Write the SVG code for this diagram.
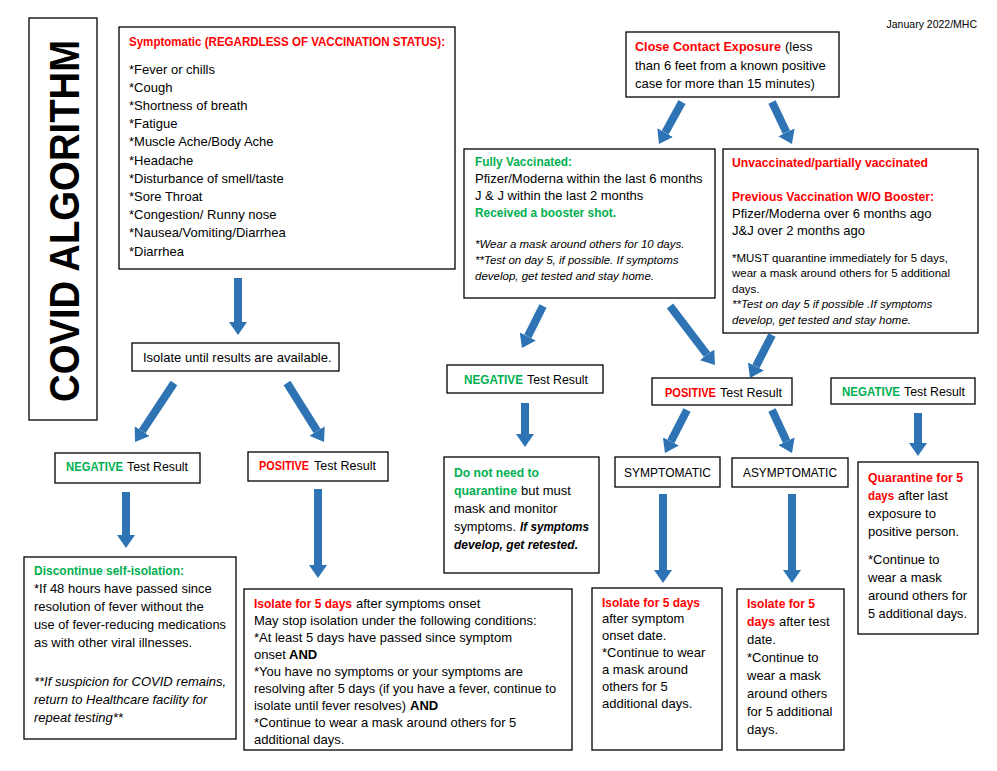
<svg xmlns="http://www.w3.org/2000/svg" width="997" height="771" viewBox="0 0 997 771">
<style>
.box{fill:#fff;stroke:#000;stroke-width:1.3}
text{font-family:"Liberation Sans",Arial,sans-serif;font-size:13px;fill:#000}
.b{font-weight:bold}
.r{fill:#ff0000}
.g{fill:#00b050}
.i{font-style:italic}
.s{font-size:11.5px}
.arr{stroke:#2e74b5;stroke-width:8;fill:none;marker-end:url(#ah)}
</style>
<defs>
<marker id="ah" markerUnits="userSpaceOnUse" viewBox="0 -9 13 18" markerWidth="13" markerHeight="18" refX="0" refY="0" orient="auto">
<path d="M0,-9 L13,0 L0,9 z" fill="#2e74b5"/>
</marker>
</defs>
<rect width="997" height="771" fill="#fff"/>

<text x="977" y="28" text-anchor="end" style="font-size:10.5px">January 2022/MHC</text>

<g id="title">
<rect class="box" x="29" y="18" width="68" height="402"/>
<text class="b" transform="translate(79,221) rotate(-90)" text-anchor="middle" style="font-size:42px" textLength="362" lengthAdjust="spacingAndGlyphs">COVID ALGORITHM</text>
</g>

<g id="connectors">
<line class="arr" x1="238" y1="278" x2="238" y2="322"/>
<line class="arr" x1="174" y1="383" x2="142.2" y2="431.1"/>
<line class="arr" x1="287" y1="383" x2="317.1" y2="431"/>
<line class="arr" x1="126" y1="492" x2="126" y2="535"/>
<line class="arr" x1="318" y1="489" x2="318" y2="565"/>
<line class="arr" x1="682" y1="102" x2="665.2" y2="132.6"/>
<line class="arr" x1="772" y1="102" x2="786.4" y2="132.3"/>
<line class="arr" x1="543" y1="306" x2="527.8" y2="336.4"/>
<line class="arr" x1="670" y1="306" x2="707.1" y2="354.7"/>
<line class="arr" x1="772" y1="335" x2="755.9" y2="366.4"/>
<line class="arr" x1="525" y1="403" x2="525" y2="434"/>
<line class="arr" x1="687" y1="410" x2="670.9" y2="441.4"/>
<line class="arr" x1="772" y1="410" x2="786.5" y2="441.2"/>
<line class="arr" x1="663" y1="494" x2="663" y2="570"/>
<line class="arr" x1="792" y1="494" x2="792" y2="570"/>
<line class="arr" x1="918" y1="413" x2="918" y2="443"/>
</g>

<g id="symptomatic">
<rect class="box" x="119" y="27" width="336" height="242"/>
<text class="b r" x="129" y="45.5" textLength="316" lengthAdjust="spacingAndGlyphs">Symptomatic (REGARDLESS OF VACCINATION STATUS):</text>
<text x="129" y="73.5">*Fever or chills</text>
<text x="129" y="91.7">*Cough</text>
<text x="129" y="109.9">*Shortness of breath</text>
<text x="129" y="128.1">*Fatigue</text>
<text x="129" y="146.3">*Muscle Ache/Body Ache</text>
<text x="129" y="164.5">*Headache</text>
<text x="129" y="182.7">*Disturbance of smell/taste</text>
<text x="129" y="200.9">*Sore Throat</text>
<text x="129" y="219.1">*Congestion/ Runny nose</text>
<text x="129" y="237.3">*Nausea/Vomiting/Diarrhea</text>
<text x="129" y="255.5">*Diarrhea</text>
</g>

<g id="isolate-until">
<rect class="box" x="132" y="343" width="207" height="28"/>
<text x="143" y="361.5">Isolate until results are available.</text>
</g>

<g id="negative-left">
<rect class="box" x="55" y="453" width="145" height="30"/>
<text class="b g" x="66" y="470.5" textLength="57" lengthAdjust="spacingAndGlyphs">NEGATIVE</text>
<text x="127" y="470.5" textLength="61" lengthAdjust="spacingAndGlyphs">Test Result</text>
</g>

<g id="positive-left">
<rect class="box" x="248" y="452" width="140" height="29"/>
<text class="b r" x="259" y="469.5" textLength="50" lengthAdjust="spacingAndGlyphs">POSITIVE</text>
<text x="314" y="469.5" textLength="62" lengthAdjust="spacingAndGlyphs">Test Result</text>
</g>

<g id="discontinue">
<rect class="box" x="24" y="557" width="212" height="182"/>
<text class="b g" x="34" y="574.5" textLength="150" lengthAdjust="spacingAndGlyphs">Discontinue self-isolation:</text>
<text x="34" y="592.7">*If 48 hours have passed since</text>
<text x="34" y="610.9">resolution of fever without the</text>
<text x="34" y="629.1" textLength="192" lengthAdjust="spacingAndGlyphs">use of fever-reducing medications</text>
<text x="34" y="647.3">as with other viral illnesses.</text>
<text class="i" x="34" y="685.5">**If suspicion for COVID remains,</text>
<text class="i" x="34" y="703.5">return to Healthcare facility for</text>
<text class="i" x="34" y="721.5">repeat testing**</text>
</g>

<g id="isolate-5-onset">
<rect class="box" x="244" y="589" width="328" height="161"/>
<text class="b r" x="254" y="607.5" textLength="98" lengthAdjust="spacingAndGlyphs">Isolate for 5 days</text>
<text x="356" y="607.5">after symptoms onset</text>
<text x="254" y="624.5">May stop isolation under the following conditions:</text>
<text x="254" y="641.5">*At least 5 days have passed since symptom</text>
<text x="254" y="658.5">onset</text>
<text class="b" x="289" y="658.5">AND</text>
<text x="254" y="675.5">*You have no symptoms or your symptoms are</text>
<text x="254" y="692.5" textLength="302" lengthAdjust="spacingAndGlyphs">resolving after 5 days (if you have a fever, continue to</text>
<text x="254" y="709.5" textLength="152" lengthAdjust="spacingAndGlyphs">isolate until fever resolves)</text>
<text class="b" x="410" y="709.5">AND</text>
<text x="254" y="726.5">*Continue to wear a mask around others for 5</text>
<text x="254" y="743.5">additional days.</text>
</g>

<g id="close-contact">
<rect class="box" x="626" y="32" width="213" height="65"/>
<text class="b r" x="635" y="51" textLength="146" lengthAdjust="spacingAndGlyphs">Close Contact Exposure</text>
<text x="785" y="51">(less</text>
<text x="635" y="69.5">than 6 feet from a known positive</text>
<text x="635" y="88">case for more than 15 minutes)</text>
</g>

<g id="fully-vaccinated">
<rect class="box" x="464" y="149" width="251" height="149"/>
<text class="b g" x="475" y="166" textLength="97" lengthAdjust="spacingAndGlyphs">Fully Vaccinated:</text>
<text x="475" y="183">Pfizer/Moderna within the last 6 months</text>
<text x="475" y="200">J &amp; J within the last 2 months</text>
<text class="b g" x="475" y="217" textLength="141" lengthAdjust="spacingAndGlyphs">Received a booster shot.</text>
<text class="i s" x="475" y="248">*Wear a mask around others for 10 days.</text>
<text class="i s" x="475" y="264">**Test on day 5, if possible. If symptoms</text>
<text class="i s" x="475" y="279.5">develop, get tested and stay home.</text>
</g>

<g id="unvaccinated">
<rect class="box" x="723" y="149" width="255" height="184"/>
<text class="b r" x="732" y="167" textLength="196" lengthAdjust="spacingAndGlyphs">Unvaccinated/partially vaccinated</text>
<text class="b r" x="732" y="201" textLength="202" lengthAdjust="spacingAndGlyphs">Previous Vaccination W/O Booster:</text>
<text x="732" y="218">Pfizer/Moderna over 6 months ago</text>
<text x="732" y="235">J&amp;J over 2 months ago</text>
<text class="s" x="732" y="262">*MUST quarantine immediately for 5 days,</text>
<text class="s" x="732" y="277">wear a mask around others for 5 additional</text>
<text class="s" x="732" y="292.5">days.</text>
<text class="i s" x="732" y="308">**Test on day 5 if possible .If symptoms</text>
<text class="i s" x="732" y="324">develop, get tested and stay home.</text>
</g>

<g id="negative-mid">
<rect class="box" x="447" y="365" width="156" height="28"/>
<text class="b g" x="464" y="383.5" textLength="59" lengthAdjust="spacingAndGlyphs">NEGATIVE</text>
<text x="527" y="383.5" textLength="61" lengthAdjust="spacingAndGlyphs">Test Result</text>
</g>

<g id="positive-mid">
<rect class="box" x="652" y="378" width="140" height="27"/>
<text class="b r" x="665" y="396.5" textLength="51" lengthAdjust="spacingAndGlyphs">POSITIVE</text>
<text x="720" y="396.5" textLength="62" lengthAdjust="spacingAndGlyphs">Test Result</text>
</g>

<g id="negative-right">
<rect class="box" x="831" y="378" width="144" height="26"/>
<text class="b g" x="842" y="395.5" textLength="58" lengthAdjust="spacingAndGlyphs">NEGATIVE</text>
<text x="904" y="395.5" textLength="61" lengthAdjust="spacingAndGlyphs">Test Result</text>
</g>

<g id="no-quarantine">
<rect class="box" x="444" y="457" width="155" height="116"/>
<text class="b g" x="454" y="476.5" textLength="85" lengthAdjust="spacingAndGlyphs">Do not need to</text>
<text class="b g" x="454" y="494.5" textLength="63" lengthAdjust="spacingAndGlyphs">quarantine</text>
<text x="521" y="494.5">but must</text>
<text x="454" y="512.5">mask and monitor</text>
<text x="454" y="530.5" textLength="62" lengthAdjust="spacingAndGlyphs">symptoms.</text>
<text class="b i" x="520" y="530.5" textLength="69" lengthAdjust="spacingAndGlyphs">If symptoms</text>
<text class="b i" x="454" y="548.5" textLength="124" lengthAdjust="spacingAndGlyphs">develop, get retested.</text>
</g>

<g id="symptomatic-pos">
<rect class="box" x="615" y="457" width="105" height="30"/>
<text x="667.5" y="476.5" text-anchor="middle" textLength="87" lengthAdjust="spacingAndGlyphs">SYMPTOMATIC</text>
</g>

<g id="asymptomatic-pos">
<rect class="box" x="732" y="458" width="116" height="29"/>
<text x="790" y="476.5" text-anchor="middle" textLength="94" lengthAdjust="spacingAndGlyphs">ASYMPTOMATIC</text>
</g>

<g id="quarantine-5">
<rect class="box" x="858" y="462" width="120" height="172"/>
<text class="b r" x="868" y="481.5" textLength="95" lengthAdjust="spacingAndGlyphs">Quarantine for 5</text>
<text class="b r" x="868" y="499.8" textLength="26" lengthAdjust="spacingAndGlyphs">days</text>
<text x="898" y="499.8">after last</text>
<text x="868" y="518.1">exposure to</text>
<text x="868" y="536.4">positive person.</text>
<text x="868" y="563.5">*Continue to</text>
<text x="868" y="581.8">wear a mask</text>
<text x="868" y="600.1">around others for</text>
<text x="868" y="618.4" textLength="99" lengthAdjust="spacingAndGlyphs">5 additional days.</text>
</g>

<g id="isolate-symptom-onset">
<rect class="box" x="592" y="588" width="130" height="162"/>
<text class="b r" x="602" y="606.5" textLength="98" lengthAdjust="spacingAndGlyphs">Isolate for 5 days</text>
<text x="602" y="623.4">after symptom</text>
<text x="602" y="640.3">onset date.</text>
<text x="602" y="657.2">*Continue to wear</text>
<text x="602" y="674.1">a mask around</text>
<text x="602" y="691">others for 5</text>
<text x="602" y="707.9">additional days.</text>
</g>

<g id="isolate-test-date">
<rect class="box" x="737" y="589" width="107" height="161"/>
<text class="b r" x="747" y="607.5" textLength="68" lengthAdjust="spacingAndGlyphs">Isolate for 5</text>
<text class="b r" x="747" y="625.6" textLength="28" lengthAdjust="spacingAndGlyphs">days</text>
<text x="779" y="625.6">after test</text>
<text x="747" y="643.7">date.</text>
<text x="747" y="661.8">*Continue to</text>
<text x="747" y="679.9">wear a mask</text>
<text x="747" y="698">around others</text>
<text x="747" y="716.1">for 5 additional</text>
<text x="747" y="734.2">days.</text>
</g>
</svg>
